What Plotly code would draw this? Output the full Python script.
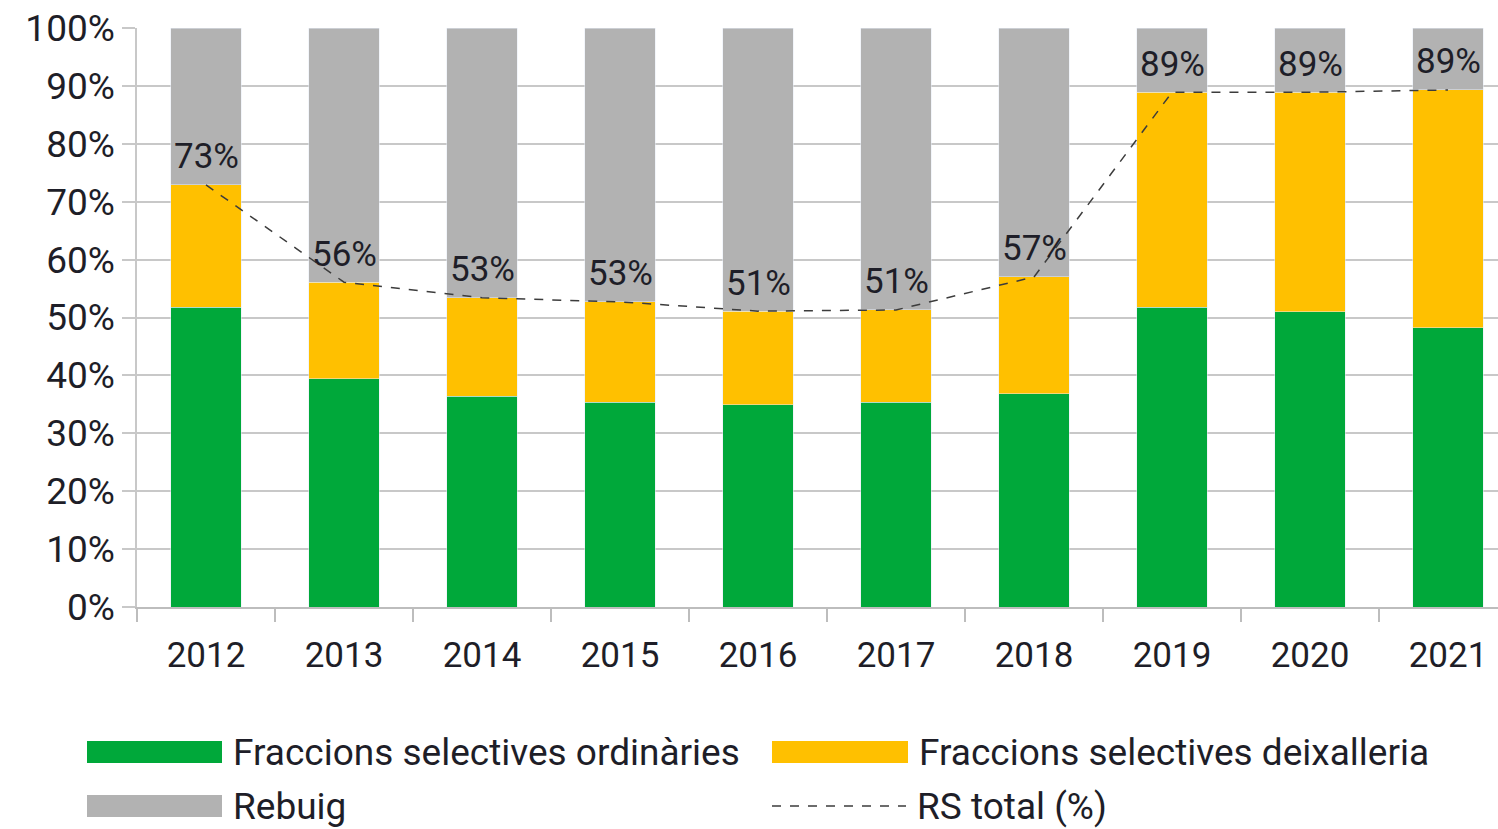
import plotly.graph_objects as go

years = ["2012", "2013", "2014", "2015", "2016", "2017", "2018", "2019", "2020", "2021"]
ordinaries = [51.8, 39.4, 36.4, 35.4, 34.9, 35.4, 36.8, 51.8, 51.0, 48.2]
deixalleria = [21.1, 16.7, 17.0, 17.3, 16.2, 15.9, 20.2, 37.1, 37.9, 41.1]
rebuig = [27.1, 43.9, 46.6, 47.3, 48.9, 48.7, 43.0, 11.1, 11.1, 10.7]
rs_total = [72.9, 56.1, 53.4, 52.7, 51.1, 51.3, 57.0, 88.9, 88.9, 89.3]
rs_labels = ["73%", "56%", "53%", "53%", "51%", "51%", "57%", "89%", "89%", "89%"]
y_ticks = [0, 10, 20, 30, 40, 50, 60, 70, 80, 90, 100]

GREEN = "#00A83A"
YELLOW = "#FFC000"
GRAY = "#B2B2B2"
LINE = "#3C3C3C"
TXT = "#1E1E28"
FONT = "Roboto"

W, H = 1498, 829
L, T, B = 137, 28, 222
plot_w = W - L
plot_h = H - T - B

fig = go.Figure()
fig.add_bar(x=years, y=ordinaries, marker_color=GREEN, name="Fraccions selectives ordinàries", width=0.51, showlegend=False)
fig.add_bar(x=years, y=deixalleria, marker_color=YELLOW, name="Fraccions selectives deixalleria", width=0.51, showlegend=False)
fig.add_bar(x=years, y=rebuig, marker_color=GRAY, name="Rebuig", width=0.51, showlegend=False)
fig.add_scatter(x=years, y=rs_total, mode="lines",
                line=dict(color=LINE, width=1.5, dash="dash"), name="RS total (%)", showlegend=False)

for i, (v, lab) in enumerate(zip(rs_total, rs_labels)):
    fig.add_annotation(x=i, y=v, xref="x", yref="y", text=lab, showarrow=False,
                       yanchor="middle", yshift=28,
                       font=dict(family=FONT, size=35, color=TXT))

fig.update_layout(
    width=W, height=H,
    margin=dict(l=L, r=0, t=T, b=B),
    barmode="stack", bargap=0.49,
    plot_bgcolor="white", paper_bgcolor="white",
    font=dict(family=FONT, color=TXT),
    showlegend=False,
)
fig.update_xaxes(
    type="category", range=[-0.5, 9.5 - 19 / 138],
    showgrid=False, showline=True, linecolor="#BDBDBD", linewidth=1.5,
    ticks="outside", tickson="boundaries", ticklen=13, tickcolor="#BDBDBD", tickwidth=1.5,
    tickfont=dict(family=FONT, size=35, color=TXT), ticklabelstandoff=16,
)
fig.update_yaxes(
    range=[0, 100], tickvals=y_ticks, ticktext=[f"{v}%" for v in y_ticks],
    showgrid=True, gridcolor="#C8C8C8", gridwidth=1.5,
    showline=True, linecolor="#C8C8C8", linewidth=1.5,
    ticks="outside", ticklen=13, tickcolor="#C8C8C8", tickwidth=1.5,
    tickfont=dict(family=FONT, size=37, color=TXT), zeroline=False,
)

def px(x):
    return (x - L) / plot_w

def py(y):
    return (H - B - y) / plot_h

legend_items = [
    ("Fraccions selectives ordinàries", GREEN, 87, 222, 752, "bar"),
    ("Fraccions selectives deixalleria", YELLOW, 772, 908, 752, "bar"),
    ("Rebuig", GRAY, 87, 222, 806, "bar"),
    ("RS total (%)", LINE, 772, 906, 806, "line"),
]
for label, color, x0, x1, yc, kind in legend_items:
    if kind == "bar":
        fig.add_shape(type="rect", xref="paper", yref="paper",
                      x0=px(x0), x1=px(x1), y0=py(yc + 11), y1=py(yc - 11),
                      fillcolor=color, line=dict(width=0))
    else:
        fig.add_shape(type="line", xref="paper", yref="paper",
                      x0=px(x0), x1=px(x1), y0=py(yc), y1=py(yc),
                      line=dict(color=color, width=1.5, dash="dash"))
    fig.add_annotation(text=label, xref="paper", yref="paper", x=px(x1 + 9), y=py(yc),
                       xanchor="left", yanchor="middle", showarrow=False,
                       font=dict(family=FONT, size=37, color=TXT))

fig.write_html("out.html")
